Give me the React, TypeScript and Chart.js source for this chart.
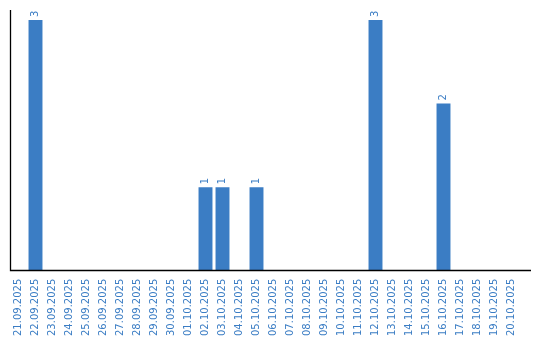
import React, { useEffect, useRef } from "react";
import { Chart, registerables } from "chart.js";

Chart.register(...registerables);

const categories = [
  "21.09.2025", "22.09.2025", "23.09.2025", "24.09.2025", "25.09.2025",
  "26.09.2025", "27.09.2025", "28.09.2025", "29.09.2025", "30.09.2025",
  "01.10.2025", "02.10.2025", "03.10.2025", "04.10.2025", "05.10.2025",
  "06.10.2025", "07.10.2025", "08.10.2025", "09.10.2025", "10.10.2025",
  "11.10.2025", "12.10.2025", "13.10.2025", "14.10.2025", "15.10.2025",
  "16.10.2025", "17.10.2025", "18.10.2025", "19.10.2025", "20.10.2025",
];

const values = [
  0, 3, 0, 0, 0, 0, 0, 0, 0, 0,
  0, 1, 1, 0, 1, 0, 0, 0, 0, 0,
  0, 3, 0, 0, 0, 2, 0, 0, 0, 0,
];

const BLUE = "#3b7dc4";
const FONT = "DejaVu Sans";

const valueLabels = {
  id: "valueLabels",
  afterDatasetsDraw(chart: any) {
    const ctx = chart.ctx;
    const meta = chart.getDatasetMeta(0);
    ctx.save();
    ctx.fillStyle = BLUE;
    ctx.font = `10px ${FONT}`;
    ctx.textAlign = "left";
    ctx.textBaseline = "middle";
    meta.data.forEach((bar: any, i: number) => {
      const v = values[i];
      if (!v) return;
      ctx.save();
      ctx.translate(bar.x, bar.y - 3);
      ctx.rotate(-Math.PI / 2);
      ctx.fillText(String(v), 0, 0);
      ctx.restore();
    });
    ctx.restore();
  },
};

const axisLines = {
  id: "axisLines",
  afterDraw(chart: any) {
    const ctx = chart.ctx;
    const a = chart.chartArea;
    const l = Math.round(a.left) + 0.5;
    const b = Math.round(a.bottom) - 0.5;
    ctx.save();
    ctx.strokeStyle = "#000";
    ctx.lineWidth = 1.3;
    ctx.beginPath();
    ctx.moveTo(l, a.top);
    ctx.lineTo(l, b);
    ctx.lineTo(a.right + 11, b);
    ctx.stroke();
    ctx.restore();
  },
};

export default function App() {
  const ref = useRef<HTMLCanvasElement | null>(null);
  useEffect(() => {
    if (!ref.current) return;
    const chart = new Chart(ref.current, {
      type: "bar",
      data: {
        labels: categories,
        datasets: [
          {
            data: values,
            backgroundColor: BLUE,
            categoryPercentage: 0.82,
            barPercentage: 1,
          },
        ],
      },
      options: {
        animation: false,
        responsive: false,
        layout: { padding: { left: 10, right: 20, top: 10, bottom: -4 } },
        plugins: { legend: { display: false }, tooltip: { enabled: false } },
        scales: {
          x: {
            grid: { display: false, drawTicks: false },
            border: { display: false },
            ticks: {
              color: BLUE,
              font: { family: FONT, size: 10 },
              minRotation: 90,
              maxRotation: 90,
              autoSkip: false,
              padding: 8,
            },
          },
          y: {
            display: false,
            min: 0,
            max: 3.12,
          },
        },
      },
      plugins: [valueLabels, axisLines],
    });
    return () => chart.destroy();
  }, []);
  return (
    <div style={{ position: "fixed", left: 0, top: 0, width: 540, height: 340, background: "#fff" }}>
      <canvas ref={ref} width={540} height={340} />
    </div>
  );
}
